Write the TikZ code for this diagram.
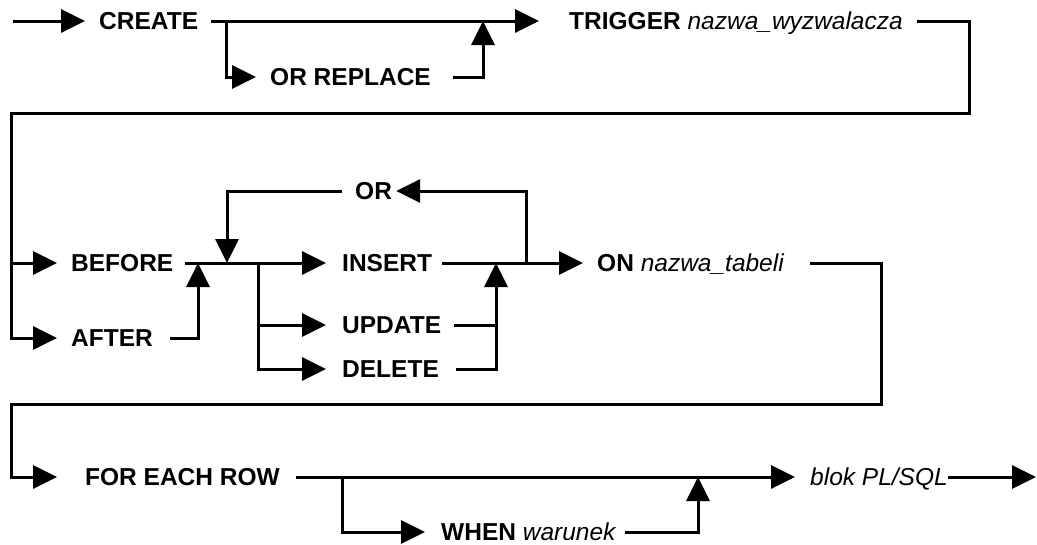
\documentclass[tikz,border=0pt]{standalone}
\usepackage{fontspec}
\setmainfont{Liberation Sans}
\usetikzlibrary{arrows.meta}

\begin{document}
\begin{tikzpicture}[
  x=1pt, y=-1pt,
  >={Triangle[length=24pt, width=23pt]},
  kw/.style={anchor=west, inner sep=0pt, text height=17.2pt, text depth=0pt, font=\fontsize{24.5}{29}\selectfont},
  rail/.style={line width=3pt, black},
  flow/.style={rail, ->}
]
\useasboundingbox (0,0) rectangle (1037,544);

% CREATE [OR REPLACE] TRIGGER
\coordinate (in) at (13,21);
\node[kw] (create) at (99,21) {\textbf{CREATE}};
\node[kw] (orrep)  at (270,77) {\textbf{OR REPLACE}};
\node[kw] (trig)   at (569,21) {\textbf{TRIGGER} \textit{nazwa\_wyzwalacza}};
\coordinate (cr)   at (226,21);
\coordinate (crup) at (483,21);

\draw[flow] (in) -- ([xshift=-14pt]create.west);
\draw[flow] ([xshift=13pt]create.east) -- ([xshift=-30pt]trig.west);
\draw[flow] (cr) |- ([xshift=-14pt]orrep.west);
\draw[flow] ([xshift=22pt]orrep.east) -| (crup);

% BEFORE / AFTER
\coordinate (wrapA) at (969,113);
\coordinate (wrapB) at (11,113);
\coordinate (bf)    at (11,263);
\node[kw] (before) at (71,263) {\textbf{BEFORE}};
\node[kw] (after)  at (71,338) {\textbf{AFTER}};

\draw[flow] ([xshift=14pt]trig.east) -| (wrapA) -- (wrapB) |- ([xshift=-14pt]after.west);
\draw[flow] (bf) -- ([xshift=-14pt]before.west);

% events, joined with OR
\node[kw] (insert) at (342,263) {\textbf{INSERT}};
\node[kw] (update) at (342,325) {\textbf{UPDATE}};
\node[kw] (delete) at (342,369) {\textbf{DELETE}};
\node[kw] (or)     at (355,191) {\textbf{OR}};
\node[kw] (on)     at (597,263) {\textbf{ON} \textit{nazwa\_tabeli}};
\coordinate (afup)   at (198,263);
\coordinate (ordown) at (227,263);
\coordinate (split)  at (258,263);
\coordinate (evup)   at (496,263);
\coordinate (orback) at (526,263);

\draw[flow] ([xshift=12pt]before.east) -- ([xshift=-16pt]insert.west);
\draw[flow] ([xshift=17pt]after.east) -| (afup);
\draw[flow] (split) |- ([xshift=-16pt]update.west);
\draw[flow] (split) |- ([xshift=-16pt]delete.west);
\draw[flow] ([xshift=10pt]insert.east) -- ([xshift=-14pt]on.west);
\draw[rail] ([xshift=13pt]update.east) -- (update.east -| evup);
\draw[flow] ([xshift=17pt]delete.east) -| (evup);
\draw[flow] (orback) |- ([xshift=4pt]or.east);
\draw[flow] ([xshift=-13pt]or.west) -| (ordown);

% FOR EACH ROW [WHEN] block
\coordinate (wrapC) at (881,404);
\coordinate (wrapD) at (11,404);
\node[kw] (each) at (85,477)  {\textbf{FOR EACH ROW}};
\node[kw] (when) at (441,532) {\textbf{WHEN} \textit{warunek}};
\node[kw] (blok) at (810,477) {\textit{blok PL/SQL}};
\coordinate (wh)   at (342,477);
\coordinate (whup) at (698,477);
\coordinate (out)  at (1036,477);

\draw[flow] ([xshift=25pt]on.east) -| (wrapC) -- (wrapD) |- ([xshift=-28pt]each.west);
\draw[flow] ([xshift=16pt]each.east) -- ([xshift=-15pt]blok.west);
\draw[flow] (wh) |- ([xshift=-16pt]when.west);
\draw[flow] ([xshift=8pt]when.east) -| (whup);
\draw[flow] (blok.east) -- (out);
\end{tikzpicture}
\end{document}
